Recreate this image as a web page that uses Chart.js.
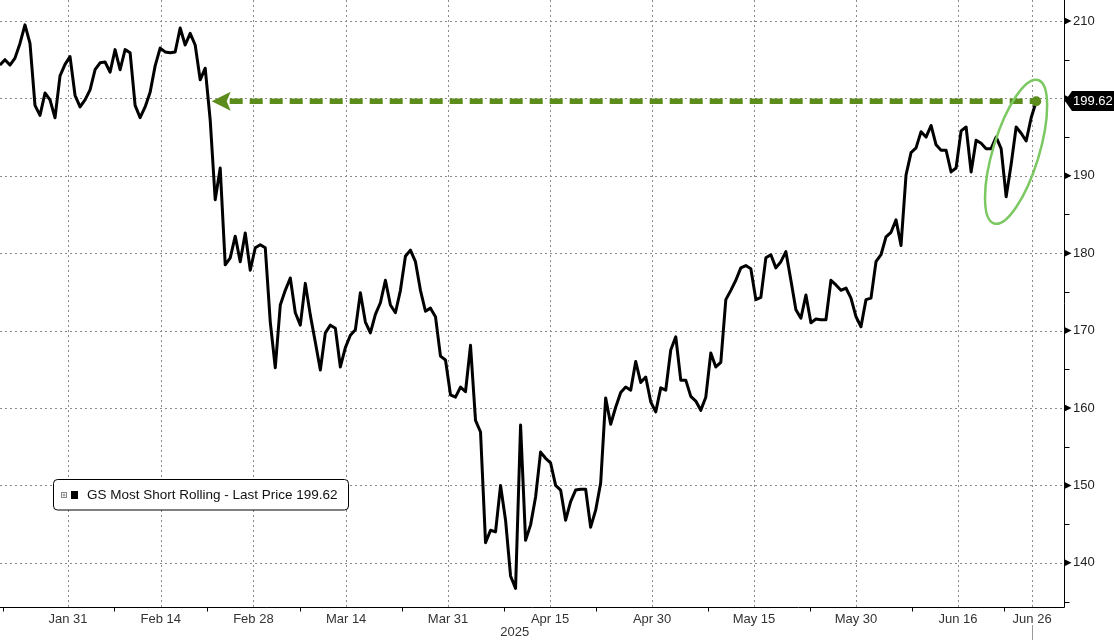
<!DOCTYPE html>
<html>
<head>
<meta charset="utf-8">
<script src="https://cdn.jsdelivr.net/npm/chart.js@4.4.1/dist/chart.umd.min.js"></script>
<style>
html,body{margin:0;padding:0;background:#fff;}
#wrap{width:1114px;height:640px;position:relative;}
canvas{display:block;}
</style>
</head>
<body>
<div id="wrap"><canvas id="c" width="1114" height="640"></canvas></div>
<script>
// ---- data ----
const SERIES_NAME = 'GS Most Short Rolling - Last Price';
const LAST_PRICE = 199.62;
const START_DAY = -7.34;   // weekdays relative to Jan 31 of first sample
const DAY_STEP = 0.54;     // weekdays per sample (intraday sampling)

const prices = [
204.3,205.0,204.3,205.2,207.1,209.5,207.1,199.1,197.8,200.7,
199.8,197.5,202.9,204.4,205.4,200.4,198.9,199.8,201.1,203.7,
204.6,204.7,203.4,206.3,203.7,206.3,205.9,199.1,197.5,198.9,
200.8,204.2,206.5,206.0,205.9,206.0,209.1,206.9,208.4,206.9,
202.4,203.9,197.2,186.9,191.0,178.5,179.4,182.2,178.9,182.6,
177.8,180.7,181.1,180.7,171.1,165.2,173.3,175.2,176.8,172.3,
170.7,176.1,172.0,168.5,164.9,169.7,170.7,170.3,165.3,167.8,
169.4,170.1,174.9,171.1,169.7,172.1,173.6,176.5,173.3,172.3,
175.2,179.6,180.4,178.9,175.2,172.5,172.9,171.8,166.7,166.2,
161.7,161.4,162.7,162.1,168.1,158.4,156.9,142.6,144.2,144.0,
150.0,145.5,138.3,136.7,157.8,142.9,144.9,148.5,154.3,153.5,
152.9,150.0,149.4,145.5,147.9,149.4,149.5,149.5,144.6,146.8,
150.3,161.3,157.9,160.1,162.0,162.7,162.3,166.0,163.3,164.0,
160.8,159.5,162.6,162.3,167.5,169.2,163.6,163.6,161.5,160.9,
159.7,161.4,167.1,165.3,165.9,174.0,175.2,176.5,178.1,178.4,
178.0,174.0,174.3,179.4,179.8,178.1,178.9,180.2,176.5,172.7,
171.6,174.6,171.0,171.5,171.4,171.4,176.5,175.9,175.2,175.5,
174.2,171.8,170.5,174.0,174.2,178.9,179.8,182.1,182.7,184.3,
181.0,190.1,193.0,193.6,195.7,195.0,196.5,194.0,193.3,193.3,
190.5,191.0,195.8,196.3,190.5,194.6,194.2,193.5,193.5,195.0,
193.5,187.3,191.5,196.3,195.5,194.5,197.5,199.62
];

const tickDays   = [0, 10, 20, 30, 41, 52, 63, 74, 85, 96, 104];
const tickLabels = ['Jan 31','Feb 14','Feb 28','Mar 14','Mar 31','Apr 15','Apr 30','May 15','May 30','Jun 16','Jun 26'];
const minorTickDays = [-7, 5, 15, 25, 36, 47, 57, 69, 80, 91, 101];
const yTicks = [140, 150, 160, 170, 180, 190, 200, 210];
const yMinorTicks = [135, 145, 155, 165, 175, 185, 195, 205];
const YEAR_LABEL = '2025';
const YEAR_DAY = 48.2;
const X_MIN = -7.335, X_MAX = 107.44;
const Y_MIN = 134.29, Y_MAX = 212.71;
const ARROW_START_DAY = 15.5;
const ELLIPSE_DAY = 102.27, ELLIPSE_VALUE = 193.1;

const FONT = '"Liberation Sans", Arial, sans-serif';

const decor = {
  id: 'decor',
  beforeDatasetsDraw(chart) {
    const {ctx, chartArea: a, scales: {x, y}} = chart;
    ctx.save();
    ctx.strokeStyle = '#8a8a8a';
    ctx.lineWidth = 1;
    ctx.setLineDash([2, 3]);
    tickDays.forEach(d => {
      const px = Math.round(x.getPixelForValue(d)) + 0.5;
      ctx.beginPath(); ctx.moveTo(px, a.top); ctx.lineTo(px, a.bottom); ctx.stroke();
    });
    yTicks.forEach(v => {
      const py = Math.round(y.getPixelForValue(v)) + 0.5;
      ctx.beginPath(); ctx.moveTo(a.left, py); ctx.lineTo(a.right, py); ctx.stroke();
    });
    ctx.restore();
  },
  afterDatasetsDraw(chart) {
    const {ctx, chartArea: a, scales: {x, y}} = chart;
    ctx.save();
    ctx.strokeStyle = '#000'; ctx.lineWidth = 1; ctx.setLineDash([]);
    const by = Math.round(a.bottom) + 0.5, rx = Math.round(a.right) + 0.5;
    ctx.beginPath(); ctx.moveTo(a.left, by); ctx.lineTo(rx, by); ctx.stroke();
    ctx.beginPath(); ctx.moveTo(rx, a.top); ctx.lineTo(rx, by); ctx.stroke();
    minorTickDays.forEach(d => {
      const px = Math.round(x.getPixelForValue(d)) + 0.5;
      ctx.beginPath(); ctx.moveTo(px, by); ctx.lineTo(px, by + 4); ctx.stroke();
    });
    yMinorTicks.forEach(v => {
      const py = Math.round(y.getPixelForValue(v)) + 0.5;
      ctx.beginPath(); ctx.moveTo(rx, py); ctx.lineTo(rx + 5, py); ctx.stroke();
    });
    ctx.fillStyle = '#000';
    yTicks.forEach(v => {
      const py = y.getPixelForValue(v);
      ctx.beginPath(); ctx.moveTo(rx, py - 3.5); ctx.lineTo(rx + 7, py); ctx.lineTo(rx, py + 3.5); ctx.closePath(); ctx.fill();
    });
    const lastTickX = Math.round(x.getPixelForValue(tickDays[tickDays.length - 1])) + 0.5;
    ctx.strokeStyle = '#999';
    ctx.beginPath(); ctx.moveTo(lastTickX, 625); ctx.lineTo(lastTickX, 640); ctx.stroke();

    const green = '#5b8c1c';
    const ay = y.getPixelForValue(LAST_PRICE);
    const tipX = x.getPixelForValue(ARROW_START_DAY);
    const endX = x.getPixelForValue(START_DAY + (prices.length - 1) * DAY_STEP);
    ctx.strokeStyle = green; ctx.lineWidth = 5.5; ctx.setLineDash([13, 7]); ctx.lineCap = 'butt';
    ctx.beginPath(); ctx.moveTo(tipX + 18, ay); ctx.lineTo(endX, ay); ctx.stroke();
    ctx.setLineDash([]);
    ctx.fillStyle = green;
    ctx.beginPath(); ctx.moveTo(tipX, ay); ctx.lineTo(tipX + 19, ay - 9.5); ctx.lineTo(tipX + 15, ay); ctx.lineTo(tipX + 19, ay + 9.5); ctx.closePath(); ctx.fill();
    ctx.beginPath(); ctx.arc(endX, ay, 5, 0, Math.PI * 2); ctx.fill();

    const ex = x.getPixelForValue(ELLIPSE_DAY), ey = y.getPixelForValue(ELLIPSE_VALUE);
    ctx.strokeStyle = '#7cc862'; ctx.lineWidth = 2.5;
    ctx.beginPath(); ctx.ellipse(ex, ey, 23, 75, 17 * Math.PI / 180, 0, Math.PI * 2); ctx.stroke();
    ctx.restore();
  },
  afterDraw(chart) {
    const {ctx, chartArea: a, scales: {x, y}} = chart;
    ctx.save();
    const ly = Math.round(y.getPixelForValue(LAST_PRICE));
    const lx = Math.round(a.right) + 1;
    ctx.fillStyle = '#000';
    ctx.beginPath();
    ctx.moveTo(lx, ly); ctx.lineTo(lx + 7, ly - 10); ctx.lineTo(1114, ly - 10); ctx.lineTo(1114, ly + 10); ctx.lineTo(lx + 7, ly + 10); ctx.closePath(); ctx.fill();
    ctx.fillStyle = '#fff';
    ctx.font = '13px ' + FONT;
    ctx.textBaseline = 'middle'; ctx.textAlign = 'left';
    ctx.fillText(LAST_PRICE.toFixed(2), lx + 8, ly + 0.5);

    ctx.fillStyle = '#333';
    ctx.textAlign = 'center';
    ctx.fillText(YEAR_LABEL, x.getPixelForValue(YEAR_DAY), 632);

    const bx = 53.5, byy = 479.5, bw = 295, bh = 30.5, r = 4;
    ctx.fillStyle = '#fff'; ctx.strokeStyle = '#000'; ctx.lineWidth = 1;
    ctx.beginPath();
    ctx.moveTo(bx + r, byy); ctx.lineTo(bx + bw - r, byy); ctx.arcTo(bx + bw, byy, bx + bw, byy + r, r);
    ctx.lineTo(bx + bw, byy + bh - r); ctx.arcTo(bx + bw, byy + bh, bx + bw - r, byy + bh, r);
    ctx.lineTo(bx + r, byy + bh); ctx.arcTo(bx, byy + bh, bx, byy + bh - r, r);
    ctx.lineTo(bx, byy + r); ctx.arcTo(bx, byy, bx + r, byy, r); ctx.closePath();
    ctx.fill(); ctx.stroke();
    ctx.strokeStyle = '#888';
    ctx.strokeRect(61.5, 492.5, 5, 5);
    ctx.beginPath(); ctx.moveTo(62.5, 495); ctx.lineTo(65.5, 495); ctx.moveTo(64, 493.5); ctx.lineTo(64, 496.5); ctx.stroke();
    ctx.fillStyle = '#000';
    ctx.fillRect(71, 491, 7, 8);
    ctx.fillStyle = '#111';
    ctx.font = '13.5px ' + FONT;
    ctx.textAlign = 'left'; ctx.textBaseline = 'middle';
    ctx.fillText(SERIES_NAME + ' ' + LAST_PRICE.toFixed(2), 87, 495.5);
    ctx.restore();
  }
};

new Chart(document.getElementById('c'), {
  type: 'line',
  data: {
    datasets: [{
      label: SERIES_NAME,
      data: prices.map((v, i) => ({x: START_DAY + i * DAY_STEP, y: v})),
      borderColor: '#000',
      borderWidth: 3,
      pointRadius: 0,
      tension: 0,
      borderJoinStyle: 'round',
      fill: false
    }]
  },
  options: {
    responsive: false,
    animation: false,
    events: [],
    layout: {padding: 0},
    plugins: {legend: {display: false}, tooltip: {enabled: false}},
    scales: {
      x: {
        type: 'linear',
        position: 'bottom',
        min: X_MIN, max: X_MAX,
        afterBuildTicks: s => { s.ticks = tickDays.map(v => ({value: v})); },
        afterFit: s => { s.height = 33; s.paddingLeft = 0; s.paddingRight = 0; },
        grid: {display: false, drawTicks: false},
        border: {display: false},
        ticks: {
          autoSkip: false, maxRotation: 0, padding: 5,
          color: '#333',
          font: {family: FONT, size: 13},
          callback: v => { const k = tickDays.indexOf(v); return k >= 0 ? tickLabels[k] : ''; }
        }
      },
      y: {
        type: 'linear',
        position: 'right',
        min: Y_MIN, max: Y_MAX,
        afterBuildTicks: s => { s.ticks = yTicks.map(v => ({value: v})); },
        afterFit: s => { s.width = 50; s.paddingTop = 0; s.paddingBottom = 0; },
        grid: {display: false, drawTicks: false},
        border: {display: false},
        ticks: {
          padding: 9,
          color: '#222',
          font: {family: FONT, size: 13},
          callback: v => String(v)
        }
      }
    }
  },
  plugins: [decor]
});
</script>
</body>
</html>
